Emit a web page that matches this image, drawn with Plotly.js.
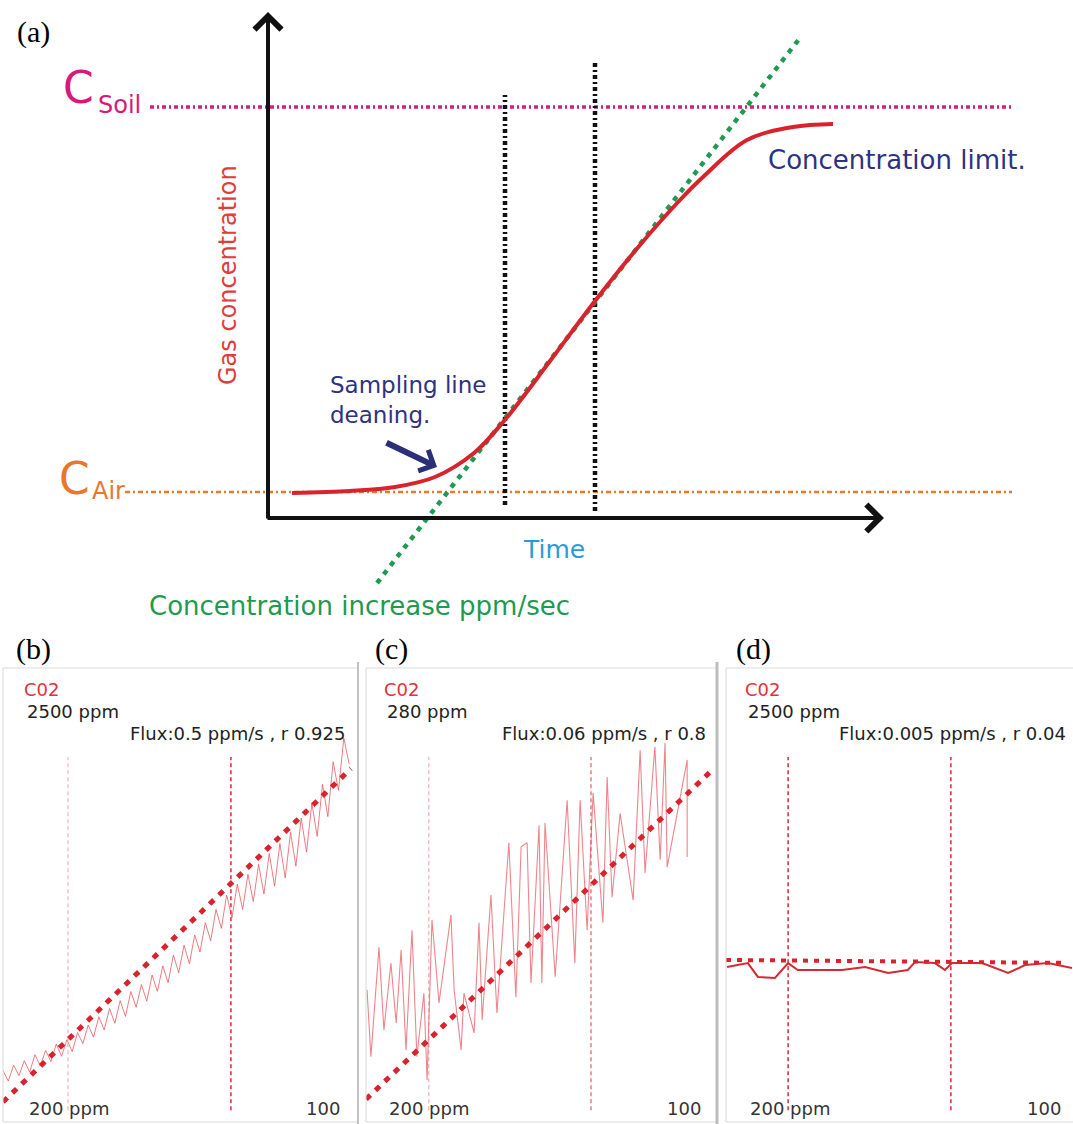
<!DOCTYPE html>
<html><head><meta charset="utf-8">
<script src="https://cdn.plot.ly/plotly-3.0.1.min.js"></script>
<style>html,body{margin:0;padding:0;background:#fff;}#chart{width:1073px;height:1124px;}</style>
</head><body><div id="chart"></div>
<script>
// ---------- Panel (a): schematic (time t, concentration c, arbitrary units) ----------
const curveT = [0.48, 1.64, 2.54, 3.34, 4.12, 4.72, 5.64, 6.54, 7.44, 8.24, 8.70, 9.58, 10.50, 11.30];
const curveC = [0.50, 0.54, 0.62, 0.82, 1.30, 1.94, 3.14, 4.34, 5.46, 6.36, 6.82, 7.56, 7.82, 7.88];
const slopeT = [2.18, 10.64];
const slopeC = [-1.30, 9.60];
const cAir = 0.52;
const cSoil = 8.22;
const refLineT = [-2.86, 14.88];
const soilLineT = [-2.36, 14.88];
const windowT = [4.74, 6.54];
const windowTop = [8.46, 9.12];
const windowBottom = [0.26, 0.14];
const axisEnd = {t: 12.32, c: 10.12};
const arrowTail = {t: 2.34, c: 1.52};
const arrowHead = {t: 3.38, c: 1.02};

// ---------- Panels (b)-(d): time (s) vs CO2 (ppm) ----------
const bTime = [0,1.5,3,4.5,6,7.5,9,10.5,12,13.5,15,16.5,18,19.5,21,22.5,24,25.5,27,28.5,30,31.5,33,34.5,36,37.5,39,40.5,42,43.5,45,46.5,48,49.5,51,52.5,54,55.5,57,58.5,60,61.5,63,64.5,66,67.5,69,70.5,72,73.5,75,76.5,78,79.5,81,82.5,84,85.5,87,88.5,90,91.5,93,94.5,96,97.5];
const bPpm = [460,407,488,435,511,453,541,484,563,506,595,533,617,557,653,597,691,630,733,666,775,700,815,735,861,781,896,812,944,862,991,906,1046,956,1096,1001,1147,1061,1210,1118,1277,1181,1350,1235,1405,1277,1455,1317,1505,1355,1560,1395,1610,1436,1667,1496,1740,1567,1815,1647,1910,1747,2025,1880,2145,2014];
const bFitT = [0, 98];
const bFitP = [302, 1990];
const bMarks = [18.3, 64.2];

const cTime = [0.3,1.4,3.7,5.1,7.1,8.6,10.0,11.4,13.1,14.5,16.5,17.4,18.8,20.8,24.2,25.1,27.1,27.9,30.8,32.2,33.1,35.6,37.3,40.7,42.7,44.2,45.9,47.0,49.3,50.1,51.0,53.9,57.3,59.5,61.0,63.0,64.7,67.5,68.7,70.1,72.4,76.1,78.1,79.5,82.3,83.8,85.2,85.8,91.5,91.5];
const cPpm = [223.3,211.5,230.8,216.2,228.0,217.4,230.3,212.7,233.8,211.5,222.7,207.4,235.6,221.0,236.5,223.3,212.7,222.7,215.7,235.1,218.0,240.0,219.2,249.2,222.0,248.5,249.2,224.5,252.3,224.5,252.7,225.6,256.7,228.0,256.7,233.8,258.0,235.1,260.8,239.6,254.4,239.1,265.5,243.9,266.1,246.2,266.8,244.9,263.8,246.7];
const cFitT = [0, 98.6];
const cFitP = [204, 262];
const cMarks = [17.9, 64.1];

const dTime = [0.3,6.3,9.2,14.1,17.9,20.7,33.4,40.1,46.7,52.4,54.5,60.2,63.1,65.1,73.8,81.3,86.2,92.8,99.7];
const dPpm = [985,1005,935,930,1005,970,970,985,955,970,1011,1005,970,1005,1005,955,995,1005,980];
const dFitT = [0, 98];
const dFitP = [1021, 1006];
const dMarks = [17.9, 64.8];

const panelTop = ['2500 ppm', '280 ppm', '2500 ppm'];
const panelBottom = ['200 ppm', '200 ppm', '200 ppm'];
const panelEnd = ['100', '100', '100'];
const panelFlux = ['Flux:0.5 ppm/s , r 0.925', 'Flux:0.06 ppm/s , r 0.8', 'Flux:0.005 ppm/s , r 0.04'];
const gasName = 'C02';

// ---------- layout helpers ----------
const W = 1073, H = 1124;
const X = p => p / W;
const Y = p => 1 - p / H;

const RED = '#d8232c';
const traces = [];
function line(xa, ya, x, y, color, width, dash, shape, opacity) {
  traces.push({type: 'scatter', mode: 'lines', xaxis: xa, yaxis: ya, x: x, y: y,
    line: {color: color, width: width, dash: dash || 'solid', shape: shape || 'linear'},
    opacity: opacity == null ? 1 : opacity, hoverinfo: 'skip'});
}

// panel (a)
line('x', 'y', soilLineT, [cSoil, cSoil], '#d81b7e', 3.5, '4px,3px,2px,3px');
line('x', 'y', refLineT, [cAir, cAir], '#ea7a2a', 2.5, '5px,3px,2px,3px');
windowT.forEach((t, i) => line('x', 'y', [t, t], [windowBottom[i], windowTop[i]], '#111', 4.5, '4px,3px,2px,3px'));
line('x', 'y', slopeT, slopeC, '#1f9a50', 4.5, '5px,6px');
line('x', 'y', curveT, curveC, RED, 4, 'solid', 'spline');

// panel (b)
line('x2', 'y2', bTime, bPpm, '#e8505a', 1, 'solid', 'linear', 0.75);
line('x2', 'y2', bFitT, bFitP, RED, 5, '6px,7px');
// panel (c)
line('x3', 'y3', cTime, cPpm, '#e8505a', 1.1, 'solid', 'linear', 0.7);
line('x3', 'y3', cFitT, cFitP, RED, 5, '6px,7px');
// panel (d)
line('x4', 'y4', dTime, dPpm, '#d42a30', 2, 'solid', 'linear');
line('x4', 'y4', dFitT, dFitP, RED, 4, '5px,6px');

const shapes = [];
// panel frames
[[3, 358], [366, 717], [726, 1075]].forEach(r => shapes.push({type: 'rect', xref: 'paper', yref: 'paper',
  x0: X(r[0]), x1: X(r[1]), y0: Y(1122), y1: Y(668), line: {color: '#d9d9d9', width: 1}}));
shapes.push({type: 'line', xref: 'paper', yref: 'paper', x0: X(358), x1: X(358), y0: Y(1124), y1: Y(662), line: {color: '#c2c2c2', width: 2}});
shapes.push({type: 'line', xref: 'paper', yref: 'paper', x0: X(717), x1: X(717), y0: Y(1124), y1: Y(662), line: {color: '#bdbdbd', width: 3}});
// vertical window markers in lower panels
const markStyle = [
  [{color: 'rgba(232,90,100,0.55)', width: 1}, {color: '#d8283a', width: 1.5}],
  [{color: 'rgba(232,90,100,0.6)', width: 1}, {color: 'rgba(220,50,60,0.8)', width: 1.2}],
  [{color: '#d8283a', width: 1.5}, {color: '#d8283a', width: 1.5}]
];
[[bMarks, 'x2', 'y2'], [cMarks, 'x3', 'y3'], [dMarks, 'x4', 'y4']].forEach((m, pi) => {
  m[0].forEach((t, i) => shapes.push({type: 'line', xref: m[1], yref: m[2] + ' domain', x0: t, x1: t, y0: 0.026, y1: 0.804,
    line: {color: markStyle[pi][i].color, width: markStyle[pi][i].width, dash: '4px,3px'}}));
});

const ann = [];
function txt(text, x, y, size, color, anchor, family, extra) {
  ann.push(Object.assign({text: text, xref: 'paper', yref: 'paper', x: X(x), y: Y(y), showarrow: false,
    xanchor: anchor || 'center', yanchor: 'middle', align: anchor || 'center',
    font: {size: size, color: color, family: family || 'DejaVu Sans'}}, extra || {}));
}
const SERIF = 'Liberation Serif';
// axes arrows (panel a)
ann.push({text: '', xref: 'x', yref: 'y', axref: 'x', ayref: 'y', x: 0, y: axisEnd.c, ax: 0, ay: -0.04,
  showarrow: true, arrowhead: 4, arrowsize: 1.3, arrowwidth: 4, arrowcolor: '#111'});
ann.push({text: '', xref: 'x', yref: 'y', axref: 'x', ayref: 'y', x: axisEnd.t, y: 0, ax: -0.04, ay: 0,
  showarrow: true, arrowhead: 4, arrowsize: 1.3, arrowwidth: 4, arrowcolor: '#111'});
ann.push({text: '', xref: 'x', yref: 'y', axref: 'x', ayref: 'y', x: arrowHead.t, y: arrowHead.c, ax: arrowTail.t, ay: arrowTail.c,
  showarrow: true, arrowhead: 4, arrowsize: 0.75, arrowwidth: 6, arrowcolor: '#2b2f78'});

txt('(a)', 33, 32, 30, '#000', 'center', SERIF);
txt('C', 78, 88, 44, '#d6197b');
txt('Soil', 96, 105, 24, '#d6197b', 'left');
txt('C', 74, 478, 44, '#e8772e');
txt('Air', 90, 491, 24, '#e8772e', 'left');
txt('Gas concentration', 228, 275, 24, '#e23b3b', 'center', null, {textangle: -90});
txt('Sampling line<br>deaning.', 328, 400, 23, '#2e3282', 'left');
txt('Concentration limit.', 766, 160, 26, '#2e3282', 'left');
txt('Time', 521, 550, 25, '#2b9bd8', 'left');
txt('Concentration increase ppm/sec', 147, 606, 26, '#22994f', 'left');

const labels = ['(b)', '(c)', '(d)'];
const labelX = [33, 392, 753];
const leftX = [22, 382, 743];
const rightX = [347, 708, 1068];
const endX = [342, 703, 1063];
for (let i = 0; i < 3; i++) {
  txt(labels[i], labelX[i], 649, 30, '#000', 'center', SERIF);
  txt(gasName, leftX[i], 689, 18, '#e2323c', 'left');
  txt(panelTop[i], leftX[i] + 3, 711, 18, '#222', 'left');
  txt(panelFlux[i], rightX[i], 733, 18, '#222', 'right');
  txt(panelBottom[i], leftX[i] + 5, 1108, 18, '#333', 'left');
  txt(panelEnd[i], endX[i], 1108, 18, '#333', 'right');
}

const hid = {visible: false, fixedrange: true};
const layout = {
  width: W, height: H, margin: {l: 0, r: 0, t: 0, b: 0}, paper_bgcolor: '#fff', plot_bgcolor: 'rgba(0,0,0,0)',
  showlegend: false,
  xaxis: Object.assign({domain: [0, 1], range: [-5.36, 16.1], anchor: 'y'}, hid),
  yaxis: Object.assign({domain: [1 - 625 / H, 1], range: [-2.14, 10.36], anchor: 'x'}, hid),
  xaxis2: Object.assign({domain: [X(3), X(358)], range: [0, 100], anchor: 'y2'}, hid),
  yaxis2: Object.assign({domain: [Y(1122), Y(668)], range: [200, 2500], anchor: 'x2'}, hid),
  xaxis3: Object.assign({domain: [X(366), X(717)], range: [0, 100], anchor: 'y3'}, hid),
  yaxis3: Object.assign({domain: [Y(1122), Y(668)], range: [200, 280], anchor: 'x3'}, hid),
  xaxis4: Object.assign({domain: [X(726), 1], range: [0, 100], anchor: 'y4'}, hid),
  yaxis4: Object.assign({domain: [Y(1122), Y(668)], range: [200, 2500], anchor: 'x4'}, hid),
  shapes: shapes,
  annotations: ann
};
Plotly.newPlot('chart', traces, layout, {staticPlot: true, displayModeBar: false});
</script></body></html>
